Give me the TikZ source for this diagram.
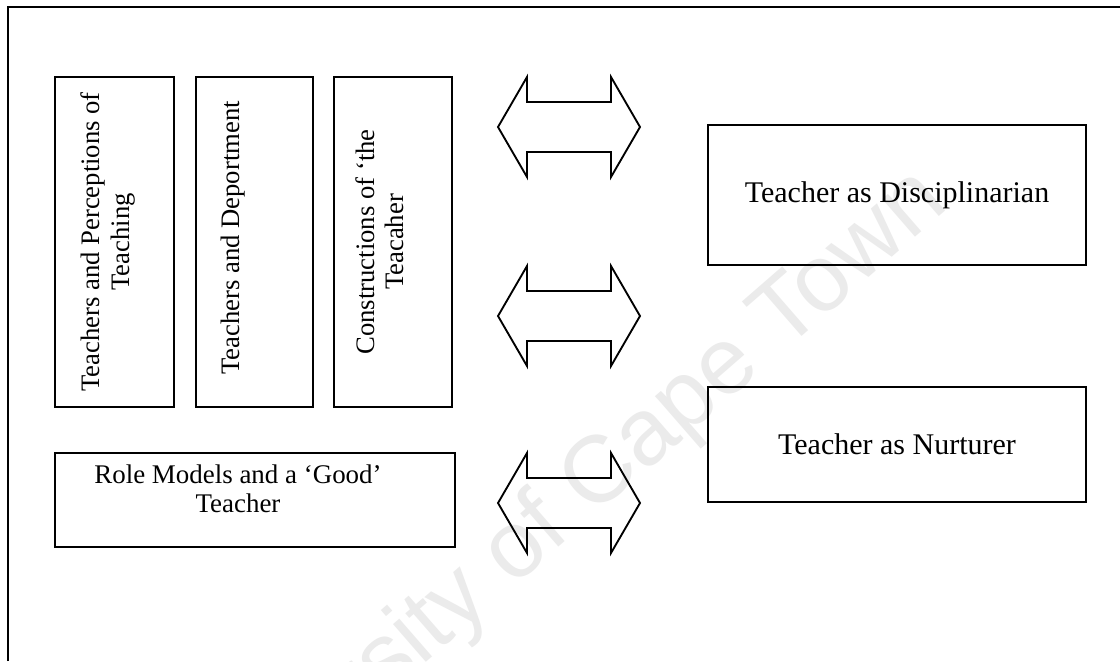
\documentclass[tikz,border=0pt]{standalone}
\usepackage{fontspec}
\setmainfont{Liberation Serif}
\newfontfamily\wmfont{Liberation Sans}
\begin{document}
\begin{tikzpicture}[x=0.75pt,y=-0.75pt,
  frameline/.style={line width=1.4pt},
  boxstyle/.style={draw, line width=1.4pt, rectangle, inner sep=0pt},
  rottext/.style={rotate=90, align=center, inner sep=0pt, font=\fontsize{20}{22}\selectfont},
  lefttext/.style={align=center, inner sep=0pt, font=\fontsize{20.2}{22}\selectfont},
  righttext/.style={align=center, inner sep=0pt, font=\fontsize{22.5}{26}\selectfont},
  arrowshape/.style={draw, line width=1.4pt, line join=miter},
  wm/.style={text=black!8, inner sep=0pt, font=\wmfont\fontsize{71}{80}\selectfont}]
\useasboundingbox (0,0) rectangle (1120,661);
\fill[white] (0,0) rectangle (1120,661);
% watermark
\begin{scope}
\clip (0,0) rectangle (1120,661);
\node[wm, rotate=41, anchor=base] (wmark) at (565,542) {University of Cape Town};
\end{scope}
% frame
\coordinate (ftl) at (8,7);
\coordinate (ftr) at (1120,7);
\coordinate (fbl) at (8,661);
\draw[frameline] (fbl) -- (ftl) -- (ftr);
% left vertical boxes
\node[boxstyle, minimum width=89.25pt, minimum height=247.5pt] (b1) at (114.5,242) {};
\node[boxstyle, minimum width=87.75pt, minimum height=247.5pt] (b2) at (254.5,242) {};
\node[boxstyle, minimum width=88.5pt, minimum height=247.5pt] (b3) at (393,242) {};
\node[rottext] (t1) at (108,242) {Teachers and Perceptions of\\Teaching};
\node[rottext] (t2) at (233,238) {Teachers and Deportment};
\node[rottext] (t3) at (380,242) {Constructions of `the\\Teacaher};
% role box
\node[boxstyle, minimum width=300pt, minimum height=70.5pt] (role) at (255,500) {};
\node[lefttext] (troleA) at (238,489) {Role Models and a `Good'\\Teacher};
% right boxes
\node[boxstyle, minimum width=283.5pt, minimum height=105pt, righttext] (disc) at (897,195) {Teacher as Disciplinarian};
\node[boxstyle, minimum width=283.5pt, minimum height=86.25pt, righttext] (nurt) at (897,444.5) {Teacher as Nurturer};
% double arrows
\foreach \cy in {127,316,503}{
  \draw[arrowshape] (498,\cy) -- (527,\cy-50) -- (527,\cy-25) -- (611,\cy-25) -- (611,\cy-50)
    -- (640,\cy) -- (611,\cy+50) -- (611,\cy+25) -- (527,\cy+25) -- (527,\cy+50) -- cycle;
}
\end{tikzpicture}
\end{document}
